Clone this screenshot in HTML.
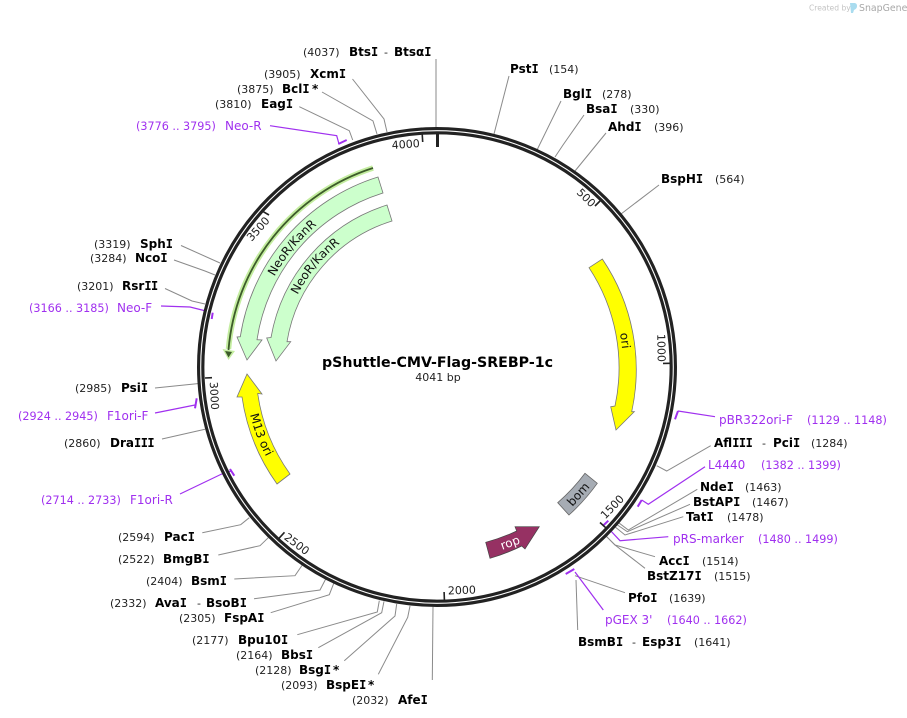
<!DOCTYPE html>
<html><head><meta charset="utf-8"><style>
html,body{margin:0;padding:0;background:#fff;width:907px;height:718px;overflow:hidden}
svg{display:block}
text{font-family:"DejaVu Sans","Liberation Sans",sans-serif;font-size:11px;fill:#222;white-space:pre}
.b{font-weight:bold;font-size:12px;fill:#000}
.i{font-family:"DejaVu Sans Mono","Liberation Mono",monospace;font-weight:bold;letter-spacing:-.5px}
.p{fill:#a030ef;font-size:11.2px}
.p2{fill:#a030ef;font-size:12px}
.g{fill:none;stroke:#8a8a8a;stroke-width:1}
.m{fill:none;stroke:#a030ef;stroke-width:1.2}
.t{fill:none;stroke:#a030ef;stroke-width:2}
.k{stroke:#222;stroke-width:1.6}
.f{stroke:#777;stroke-width:.8}
.n{font-size:11px;fill:#222}
.l{font-size:12px;fill:#111}
</style></head><body>
<svg width="907" height="718" viewBox="0 0 907 718" xmlns="http://www.w3.org/2000/svg">
<defs>
<path id="a1" d="M253.5 336.6A186 186 0 0 1 371.6 192.9"/>
<path id="a2" d="M282.2 340.8A157 157 0 0 1 382.3 219.8"/>
<path id="a3" d="M244 367A193 193 0 0 0 293.6 496.1"/>
<path id="a4" d="M601.2 279.7A186 186 0 0 1 618.9 405.7"/>
</defs>
<!-- logo -->
<text x="809" y="10.5" style="font-size:7.6px;fill:#c4c4c4">Created by</text>
<path d="M850 3h4c2 0 3 1 3 3s-1 3-3 4l-1 3h-2z" fill="#a9dcef"/>
<text x="859" y="11" style="font-size:9.4px;fill:#a8a8a8">SnapGene</text>

<!-- leaders -->
<g class="g">
<path d="M436 59V130"/>
<path d="M509 76L494 134"/>
<path d="M561 101L537 150"/>
<path d="M584 115L563 145L555 157"/>
<path d="M606 133L575 171"/>
<path d="M659 185L621 214"/>
<path d="M710.7 445.7L666.7 471L656.7 465.7"/>
<path d="M697.3 489.3L628.3 530L617.3 521.7"/>
<path d="M690 504.3L627.3 531.7L616 524"/>
<path d="M683.3 516.7L625 535L614 526"/>
<path d="M655 556.7L615 545L606.7 536.7"/>
<path d="M645 568.3L615 545L606.7 536.7"/>
<path d="M625 592.7L575 575.7"/>
<path d="M577.7 630L576 580"/>
<path d="M432.3 680L433 606.7"/>
<path d="M378.3 674.3L407.7 617.3L410 606"/>
<path d="M344.3 660.7L395 616L396.7 604"/>
<path d="M318.3 647.7L381.7 612.7L384 601.3"/>
<path d="M297.3 634.7L377.3 612L379.3 600.7"/>
<path d="M270.7 612.7L329.3 594.7L334 582.7"/>
<path d="M254 598.7L320 590L325.7 579"/>
<path d="M234.3 579L295 575.7L302.3 565"/>
<path d="M218.3 555L260 545.7L268.3 537.7"/>
<path d="M202.3 532.7L240.7 524.7L249.3 517.7"/>
<path d="M162 439L205 429.3"/>
<path d="M155 388L199 383.5"/>
<path d="M165 288.5L192 301L205 304"/>
<path d="M174 260L205 271L215 275"/>
<path d="M181 245.5L220 263"/>
<path d="M299.3 106.7L349.3 130.7L352.7 140"/>
<path d="M322 92L373 121L377 134"/>
<path d="M352.5 79L384 119L387 132"/>
</g>

<!-- purple leaders -->
<g class="m">
<path d="M715 416.7L678 411"/>
<path d="M705 466.7L648.3 504.3L641.7 500"/>
<path d="M668.3 536.7L620 540.7L609 529"/>
<path d="M603.3 610L575 572"/>
<path d="M180 494L221.7 474L231 471"/>
<path d="M155 413L195 405"/>
<path d="M161 306L190 307L206 311"/>
<path d="M270 125.7L336.7 135.7L339 144"/>
</g>
<g class="t">
<path d="M678 411L675 419.3"/>
<path d="M641.7 500L637.7 506.7"/>
<path d="M602.7 526L608.3 520.7"/>
<path d="M565.7 574L574.3 569"/>
<path d="M230 469L234.3 475.7"/>
<path d="M196.7 398.3L195 408.3"/>
<path d="M212.7 312.7L211.7 319"/>
<path d="M338.3 144L346.7 140"/>
</g>

<!-- ring -->
<circle cx="437" cy="367" r="236.3" fill="none" stroke="#222" stroke-width="7.4"/>
<circle cx="437" cy="367" r="236.3" fill="none" stroke="#fff" stroke-width="1.1"/>

<!-- ticks -->
<rect x="436" y="133" width="3" height="14" fill="#222"/>
<line class="k" x1="422.2" y1="134" x2="422.7" y2="142"/>
<line class="k" x1="600" y1="201" x2="595" y2="206"/>
<line class="k" x1="670" y1="363.3" x2="663" y2="363.4"/>
<line class="k" x1="605.7" y1="527.7" x2="600" y2="522.5"/>
<line class="k" x1="444.4" y1="599.9" x2="444.1" y2="592"/>
<line class="k" x1="279" y1="538.3" x2="284.5" y2="532.3"/>
<line class="k" x1="205" y1="378" x2="212" y2="377.7"/>
<line class="k" x1="263.3" y1="211.7" x2="269" y2="215"/>

<text class="n" text-anchor="middle" transform="translate(406,148) rotate(-4)">4000</text>
<text class="n" text-anchor="middle" transform="translate(583.5,200.5) rotate(44.5)">500</text>
<text class="n" text-anchor="middle" transform="translate(657.5,348) rotate(89)">1000</text>
<text class="n" text-anchor="middle" transform="translate(615,509.5) rotate(-46)">1500</text>
<text class="n" text-anchor="middle" transform="translate(462,594) rotate(-2)">2000</text>
<text class="n" text-anchor="middle" transform="translate(294.5,547) rotate(37)">2500</text>
<text class="n" text-anchor="middle" transform="translate(210.5,396) rotate(87)">3000</text>
<text class="n" text-anchor="middle" transform="translate(261,231.5) rotate(-48)">3500</text>

<!-- features -->
<path d="M373 168A209 209 0 0 0 228.5 349" fill="none" stroke="#c4eda0" stroke-width="5.5"/>
<path d="M222.5 349L235 351L228.5 360Z" fill="#c4eda0"/>
<path d="M373 168A209 209 0 0 0 228.5 350" fill="none" stroke="#3d5c2a" stroke-width="1.8"/>
<path d="M225 351L232 352L228.5 357.5Z" fill="#3d5c2a"/>

<path class="f" fill="#ccffcc" d="M378 177A199 199 0 0 0 240.3 336.7L237 337L247 360L262 340L257 339.7A182 182 0 0 1 383 193Z"/>
<path class="f" fill="#ccffcc" d="M387 205A169.5 169.5 0 0 0 271 337.5L266.7 338L276 361L290.7 341.7L287 341.7A152.5 152.5 0 0 1 392 221Z"/>
<path class="f" fill="#ffff00" d="M247 374L262 394L257.7 393.5A182 182 0 0 0 290 474L277 484A198 198 0 0 1 242 397L237 397Z"/>
<path class="f" fill="#ffff00" d="M602.3 259A197 197 0 0 1 631.7 411.7L634.3 411.7L616 430L610.7 406.7L615 406A182 182 0 0 0 589 267.7Z"/>
<path fill="#a6acb4" stroke="#666" stroke-width=".8" d="M585 473.3L597.3 483.3A197.5 197.5 0 0 1 569 515L557.7 502.7A182 182 0 0 0 585 473.3Z"/>
<path fill="#963163" stroke="#444" stroke-width=".7" d="M485.7 542.3A182 182 0 0 0 516.7 531L515 526.7L539.3 526.7L525 549L521.7 546A198 198 0 0 1 490 558.3Z"/>

<text class="l" text-anchor="middle"><textPath href="#a1" startOffset="50%">NeoR/KanR</textPath></text>
<text class="l" text-anchor="middle"><textPath href="#a2" startOffset="50%">NeoR/KanR</textPath></text>
<text class="l" text-anchor="middle"><textPath href="#a3" startOffset="50%">M13 ori</textPath></text>
<text class="l" text-anchor="middle"><textPath href="#a4" startOffset="50%">ori</textPath></text>
<text class="l" text-anchor="middle" transform="translate(581.3,497) rotate(-48)">bom</text>
<text class="l" style="fill:#fff" text-anchor="middle" transform="translate(511.5,546.5) rotate(-20)">rop</text>

<!-- centre -->
<text x="437.5" y="367" text-anchor="middle" style="font-weight:bold;font-size:14.2px;fill:#000">pShuttle-CMV-Flag-SREBP-1c</text>
<text x="438" y="381" text-anchor="middle">4041 bp</text>

<!-- labels -->
<text x="303" y="56">(4037)</text><text class="b" x="349" y="56">Bts<tspan class="i">I</tspan></text><text x="384" y="56">-</text><text class="b" x="394" y="56">Btsα<tspan class="i">I</tspan></text>
<text class="b" x="510" y="73">Pst<tspan class="i">I</tspan></text><text x="549" y="73">(154)</text>
<text class="b" x="563" y="98">Bgl<tspan class="i">I</tspan></text><text x="602" y="98">(278)</text>
<text class="b" x="586" y="113">Bsa<tspan class="i">I</tspan></text><text x="630" y="113">(330)</text>
<text class="b" x="608" y="131">Ahd<tspan class="i">I</tspan></text><text x="654" y="131">(396)</text>
<text class="b" x="661" y="183">BspH<tspan class="i">I</tspan></text><text x="715" y="183">(564)</text>
<text class="p2" x="719" y="424">pBR322ori-F</text><text class="p" x="807" y="424">(1129 .. 1148)</text>
<text class="b" x="714" y="447">Afl<tspan class="i">III</tspan></text><text x="762" y="447">-</text><text class="b" x="773" y="447">Pci<tspan class="i">I</tspan></text><text x="811" y="447">(1284)</text>
<text class="p2" x="708" y="469">L4440</text><text class="p" x="761" y="469">(1382 .. 1399)</text>
<text class="b" x="700" y="491">Nde<tspan class="i">I</tspan></text><text x="745" y="491">(1463)</text>
<text class="b" x="693" y="506">BstAP<tspan class="i">I</tspan></text><text x="752" y="506">(1467)</text>
<text class="b" x="686" y="521">Tat<tspan class="i">I</tspan></text><text x="727" y="521">(1478)</text>
<text class="p2" x="673" y="543">pRS-marker</text><text class="p" x="758" y="543">(1480 .. 1499)</text>
<text class="b" x="659" y="565">Acc<tspan class="i">I</tspan></text><text x="702" y="565">(1514)</text>
<text class="b" x="647" y="580">BstZ17<tspan class="i">I</tspan></text><text x="714" y="580">(1515)</text>
<text class="b" x="628" y="602">Pfo<tspan class="i">I</tspan></text><text x="669" y="602">(1639)</text>
<text class="p2" x="605" y="624">pGEX 3'</text><text class="p" x="667" y="624">(1640 .. 1662)</text>
<text class="b" x="578" y="646">BsmB<tspan class="i">I</tspan></text><text x="632" y="646">-</text><text class="b" x="642" y="646">Esp3<tspan class="i">I</tspan></text><text x="694" y="646">(1641)</text>
<text x="352" y="704">(2032)</text><text class="b" x="398" y="704">Afe<tspan class="i">I</tspan></text>
<text x="281" y="689">(2093)</text><text class="b" x="326" y="689">BspE<tspan class="i">I</tspan></text><text class="b" x="368" y="689">*</text>
<text x="255" y="674">(2128)</text><text class="b" x="299" y="674">Bsg<tspan class="i">I</tspan></text><text class="b" x="333" y="674">*</text>
<text x="236" y="659">(2164)</text><text class="b" x="281" y="659">Bbs<tspan class="i">I</tspan></text>
<text x="192" y="644">(2177)</text><text class="b" x="238" y="644">Bpu10<tspan class="i">I</tspan></text>
<text x="179" y="622">(2305)</text><text class="b" x="224" y="622">FspA<tspan class="i">I</tspan></text>
<text x="110" y="607">(2332)</text><text class="b" x="155" y="607">Ava<tspan class="i">I</tspan></text><text x="197" y="607">-</text><text class="b" x="206" y="607">BsoB<tspan class="i">I</tspan></text>
<text x="146" y="585">(2404)</text><text class="b" x="191" y="585">Bsm<tspan class="i">I</tspan></text>
<text x="118" y="563">(2522)</text><text class="b" x="163" y="563">BmgB<tspan class="i">I</tspan></text>
<text x="118" y="541">(2594)</text><text class="b" x="164" y="541">Pac<tspan class="i">I</tspan></text>
<text class="p" x="41" y="504">(2714 .. 2733)</text><text class="p2" x="130" y="504">F1ori-R</text>
<text x="64" y="447">(2860)</text><text class="b" x="110" y="447">Dra<tspan class="i">III</tspan></text>
<text class="p" x="18" y="420">(2924 .. 2945)</text><text class="p2" x="107" y="420">F1ori-F</text>
<text x="75" y="392">(2985)</text><text class="b" x="121" y="392">Psi<tspan class="i">I</tspan></text>
<text class="p" x="29" y="312">(3166 .. 3185)</text><text class="p2" x="117" y="312">Neo-F</text>
<text x="77" y="290">(3201)</text><text class="b" x="122" y="290">Rsr<tspan class="i">II</tspan></text>
<text x="90" y="262">(3284)</text><text class="b" x="135" y="262">Nco<tspan class="i">I</tspan></text>
<text x="94" y="248">(3319)</text><text class="b" x="140" y="248">Sph<tspan class="i">I</tspan></text>
<text class="p" x="136" y="130">(3776 .. 3795)</text><text class="p2" x="225" y="130">Neo-R</text>
<text x="215" y="108">(3810)</text><text class="b" x="261" y="108">Eag<tspan class="i">I</tspan></text>
<text x="237" y="93">(3875)</text><text class="b" x="282" y="93">Bcl<tspan class="i">I</tspan></text><text class="b" x="312" y="93">*</text>
<text x="264" y="78">(3905)</text><text class="b" x="310" y="78">Xcm<tspan class="i">I</tspan></text>
</svg>
</body></html>
